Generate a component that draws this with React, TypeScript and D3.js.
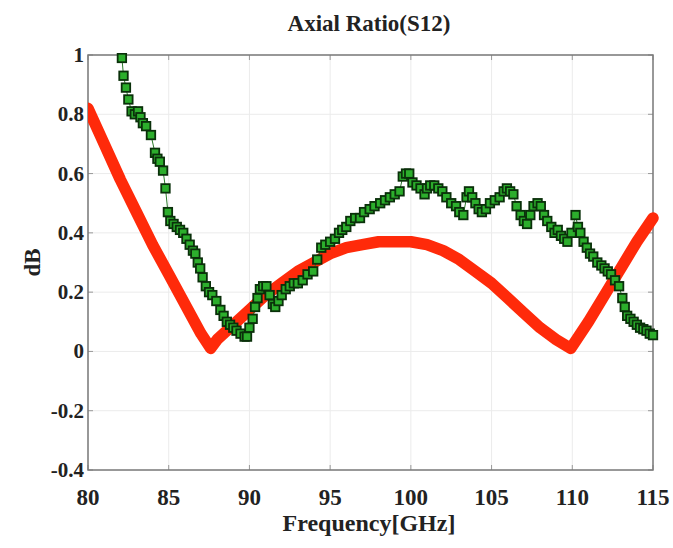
import React from "react";
import * as d3 from "d3";

const xTicks = [80, 85, 90, 95, 100, 105, 110, 115];
const yTicks = [-0.4, -0.2, 0, 0.2, 0.4, 0.6, 0.8, 1];
const yTickLabels = ["-0.4", "-0.2", "0", "0.2", "0.4", "0.6", "0.8", "1"];

const redFreq = [80, 81, 82, 83, 84, 85, 86, 87, 87.6, 88, 89, 90, 91, 92, 93, 94, 95, 96, 97, 98, 99, 100, 101, 102, 103, 104, 105, 106, 107, 108, 109, 109.9, 111, 112, 113, 114, 115];
const redAR = [0.82, 0.7, 0.58, 0.47, 0.36, 0.26, 0.16, 0.06, 0.01, 0.04, 0.09, 0.14, 0.19, 0.23, 0.27, 0.3, 0.33, 0.35, 0.36, 0.37, 0.37, 0.37, 0.36, 0.34, 0.31, 0.27, 0.23, 0.18, 0.13, 0.08, 0.04, 0.01, 0.1, 0.19, 0.28, 0.37, 0.45];

const greenFreq = [82.1, 82.2, 82.35, 82.5, 82.7, 82.9, 83.1, 83.25, 83.4, 83.6, 83.9, 84.15, 84.3, 84.45, 84.65, 84.8, 84.95, 85.1, 85.3, 85.5, 85.7, 85.9, 86.1, 86.3, 86.5, 86.65, 86.8, 86.95, 87.1, 87.3, 87.5, 87.7, 87.95, 88.2, 88.4, 88.6, 88.8, 89.0, 89.2, 89.45, 89.7, 89.85, 90.0, 90.2, 90.35, 90.5, 90.65, 90.85, 91.05, 91.25, 91.45, 91.6, 91.8, 92.0, 92.25, 92.5, 92.75, 93.0, 93.3, 93.6, 93.95, 94.2, 94.45, 94.7, 95.0, 95.3, 95.55, 95.75, 96.0, 96.25, 96.55, 96.85, 97.1, 97.45, 97.75, 98.1, 98.4, 98.7, 99.0, 99.3, 99.5, 99.7, 99.9, 100.1, 100.35, 100.6, 100.85, 101.0, 101.2, 101.45, 101.7, 101.95, 102.2, 102.5, 102.8, 103.0, 103.25, 103.45, 103.6, 103.8, 104.0, 104.2, 104.4, 104.65, 104.9, 105.2, 105.5, 105.75, 105.95, 106.15, 106.35, 106.55, 106.8, 107.0, 107.2, 107.4, 107.6, 107.85, 108.05, 108.25, 108.45, 108.7, 108.9, 109.1, 109.3, 109.5, 109.7, 109.95, 110.2, 110.35, 110.5, 110.7, 110.9, 111.1, 111.3, 111.55, 111.8, 112.0, 112.2, 112.4, 112.65, 112.9, 113.1, 113.25, 113.4, 113.6, 113.8, 114.0, 114.2, 114.4, 114.6, 114.8, 115.0];
const greenAR = [0.99, 0.93, 0.89, 0.85, 0.81, 0.8, 0.81, 0.79, 0.77, 0.76, 0.73, 0.67, 0.65, 0.64, 0.61, 0.55, 0.47, 0.44, 0.43, 0.42, 0.41, 0.4, 0.38, 0.36, 0.34, 0.33, 0.3, 0.28, 0.25, 0.22, 0.2, 0.19, 0.17, 0.14, 0.12, 0.1, 0.09, 0.08, 0.07, 0.06, 0.05, 0.05, 0.08, 0.11, 0.15, 0.18, 0.21, 0.22, 0.22, 0.19, 0.16, 0.15, 0.17, 0.19, 0.21, 0.22, 0.23, 0.23, 0.24, 0.26, 0.27, 0.31, 0.35, 0.36, 0.37, 0.38, 0.4, 0.41, 0.42, 0.44, 0.45, 0.45, 0.47, 0.48, 0.49, 0.5, 0.51, 0.52, 0.53, 0.54, 0.59, 0.6, 0.6, 0.57, 0.56, 0.55, 0.53, 0.55, 0.56, 0.56, 0.55, 0.54, 0.52, 0.5, 0.49, 0.47, 0.46, 0.52, 0.54, 0.52, 0.5, 0.48, 0.47, 0.48, 0.5, 0.51, 0.52, 0.54, 0.55, 0.54, 0.53, 0.49, 0.46, 0.44, 0.43, 0.46, 0.49, 0.5, 0.49, 0.46, 0.44, 0.42, 0.4, 0.41, 0.39, 0.38, 0.37, 0.4, 0.46, 0.42, 0.4, 0.37, 0.35, 0.33, 0.32, 0.3, 0.29, 0.28, 0.27, 0.26, 0.24, 0.22, 0.18, 0.15, 0.12, 0.11, 0.1, 0.09, 0.08, 0.075, 0.07, 0.06, 0.055];

const W = 673;
const H = 548;
const L = 88, R = 653, T = 55, B = 470;
const FONT = "'Liberation Serif', 'Times New Roman', serif";

export default function App() {
  const x = d3.scaleLinear().domain([80, 115]).range([L, R]);
  const y = d3.scaleLinear().domain([-0.4, 1]).range([B, T]);

  const redPts: [number, number][] = redFreq.map((f, i) => [f, redAR[i]]);
  const greenPts: [number, number][] = greenFreq.map((f, i) => [f, greenAR[i]]);

  const line = d3
    .line<[number, number]>()
    .x((d) => x(d[0]))
    .y((d) => y(d[1]));

  const ms = 8.5;

  return (
    <svg
      width={W}
      height={H}
      style={{ position: "absolute", left: 0, top: 0, display: "block", background: "#fff" }}
    >
      <defs>
        <clipPath id="plotclip">
          <rect x={L} y={T - 2} width={R - L + 6} height={B - T + 4} />
        </clipPath>
      </defs>
      <rect x={0} y={0} width={W} height={H} fill="#fff" />
      {/* grid */}
      {xTicks.map((t) => (
        <line key={"gx" + t} x1={x(t)} x2={x(t)} y1={T} y2={B} stroke="#ebebeb" strokeWidth={1} />
      ))}
      {yTicks.map((t) => (
        <line key={"gy" + t} x1={L} x2={R} y1={y(t)} y2={y(t)} stroke="#ebebeb" strokeWidth={1} />
      ))}
      {/* ticks */}
      {xTicks.map((t) => (
        <g key={"tx" + t}>
          <line x1={x(t)} x2={x(t)} y1={B} y2={B - 5} stroke="#999" />
          <line x1={x(t)} x2={x(t)} y1={T} y2={T + 5} stroke="#999" />
        </g>
      ))}
      {yTicks.map((t) => (
        <g key={"ty" + t}>
          <line x1={L} x2={L + 5} y1={y(t)} y2={y(t)} stroke="#999" />
          <line x1={R} x2={R - 5} y1={y(t)} y2={y(t)} stroke="#999" />
        </g>
      ))}
      {/* frame */}
      <rect x={L} y={T} width={R - L} height={B - T} fill="none" stroke="#7a7a7a" strokeWidth={1.5} />

      <g clipPath="url(#plotclip)">
        {/* red curve */}
        <path
          d={line(redPts) || ""}
          fill="none"
          stroke="#ff2a0a"
          strokeWidth={11.5}
          strokeLinejoin="round"
          strokeLinecap="round"
        />
        {/* green curve */}
        <path d={line(greenPts) || ""} fill="none" stroke="#2a7a2a" strokeWidth={1} />
        {greenPts.map((d, i) => (
          <rect
            key={"g" + i}
            x={x(d[0]) - ms / 2}
            y={y(d[1]) - ms / 2}
            width={ms}
            height={ms}
            fill="#2cae2c"
            stroke="#0a300a"
            strokeWidth={1.8}
          />
        ))}
      </g>

      {/* tick labels */}
      {xTicks.map((t) => (
        <text
          key={"lx" + t}
          x={x(t)}
          y={505}
          textAnchor="middle"
          fontFamily={FONT}
          fontWeight="bold"
          fontSize={23}
          fill="#222"
        >
          {t}
        </text>
      ))}
      {yTicks.map((t, i) => (
        <text
          key={"ly" + t}
          x={L - 4}
          y={y(t) + 7}
          textAnchor="end"
          fontFamily={FONT}
          fontWeight="bold"
          fontSize={21}
          fill="#222"
        >
          {yTickLabels[i]}
        </text>
      ))}
      {/* title */}
      <text x={369} y={31} textAnchor="middle" fontFamily={FONT} fontWeight="bold" fontSize={23} fill="#222">
        Axial Ratio(S12)
      </text>
      {/* axis labels */}
      <text x={369} y={531} textAnchor="middle" fontFamily={FONT} fontWeight="bold" fontSize={24} fill="#222">
        Frequency[GHz]
      </text>
      <text
        transform={`translate(40, ${(T + B) / 2}) rotate(-90)`}
        textAnchor="middle"
        fontFamily={FONT}
        fontWeight="bold"
        fontSize={23}
        fill="#222"
      >
        dB
      </text>
    </svg>
  );
}
